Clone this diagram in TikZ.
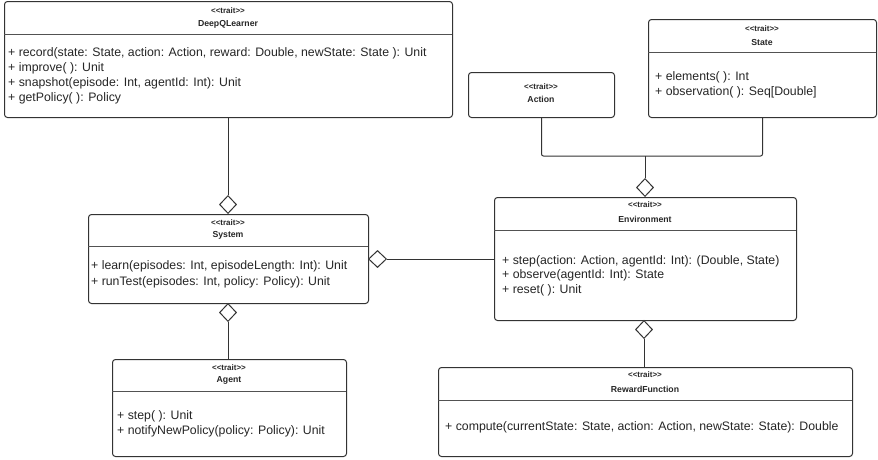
\documentclass[tikz,border=0pt]{standalone}
\usepackage{fontspec}
\setmainfont{Liberation Sans}
\usetikzlibrary{shapes.geometric}
\definecolor{lineC}{HTML}{333333}
\newcommand{\trt}{<{}<trait>{}>}
\tikzset{
  cls/.style={draw=lineC, line width=1pt, rounded corners=3pt, anchor=north west, inner sep=0pt, fill=white},
  divider/.style={draw=lineC!85, line width=0.9pt},
  stereo/.style={font=\fontsize{8}{9}\selectfont\bfseries, inner sep=0pt, anchor=center, text=black!85},
  ctitle/.style={font=\fontsize{8.7}{10}\selectfont\bfseries, inner sep=0pt, anchor=center, text=black!85},
  meth/.style={font=\fontsize{12.3}{15}\selectfont, inner sep=0pt, anchor=base west, text=black!85},
  conn/.style={draw=lineC, line width=1pt},
  agg/.style={diamond, draw=lineC, line width=1pt, fill=white, inner sep=0pt, minimum width=17pt, minimum height=18pt}
}
\begin{document}
\begin{tikzpicture}[x=1pt,y=-1pt]
\useasboundingbox (0,0) rectangle (878,459);
\fill[white] (0,0) rectangle (878,459);

% DeepQLearner
\node[cls, minimum width=448pt, minimum height=116pt] (dq) at (4,1) {};
\draw[divider] (4,34) -- (452,34);
\node[stereo] (dqs) at (228,11) {\trt};
\node[ctitle] (dqt) at (228,24) {DeepQLearner};
\node[meth] (dq1) at (8,56) {+ record(state: State, action: Action, reward: Double, newState: State ): Unit};
\node[meth] (dq2) at (8,71) {+ improve( ): Unit};
\node[meth] (dq3) at (8,86) {+ snapshot(episode: Int, agentId: Int): Unit};
\node[meth] (dq4) at (8,101) {+ getPolicy( ): Policy};

% Action
\node[cls, minimum width=146pt, minimum height=45pt] (ac) at (468,72) {};
\node[stereo] (acs) at (541,87) {\trt};
\node[ctitle] (act) at (541,99) {Action};

% State
\node[cls, minimum width=228pt, minimum height=98pt] (st) at (648,19) {};
\draw[divider] (648,52) -- (876,52);
\node[stereo] (sts) at (762,29) {\trt};
\node[ctitle] (stt) at (762,42) {State};
\node[meth] (st1) at (655,80) {+ elements( ): Int};
\node[meth] (st2) at (655,95) {+ observation( ): Seq[Double]};

% System
\node[cls, minimum width=280pt, minimum height=89pt] (sy) at (88,214) {};
\draw[divider] (88,246) -- (368,246);
\node[stereo] (sys) at (228,223) {\trt};
\node[ctitle] (syt) at (228,235) {System};
\node[meth] (sy1) at (91,269) {+ learn(episodes: Int, episodeLength: Int): Unit};
\node[meth] (sy2) at (91,285) {+ runTest(episodes: Int, policy: Policy): Unit};

% Environment
\node[cls, minimum width=302pt, minimum height=123pt] (en) at (494,197) {};
\draw[divider] (494,230) -- (796,230);
\node[stereo] (ens) at (645,205) {\trt};
\node[ctitle] (ent) at (645,219) {Environment};
\node[meth] (en1) at (502,264) {+ step(action: Action, agentId: Int): (Double, State)};
\node[meth] (en2) at (502,278) {+ observe(agentId: Int): State};
\node[meth] (en3) at (502,293) {+ reset( ): Unit};

% Agent
\node[cls, minimum width=234pt, minimum height=97pt] (ag) at (112,359) {};
\draw[divider] (112,391) -- (346,391);
\node[stereo] (ags) at (229,368) {\trt};
\node[ctitle] (agt) at (229,380) {Agent};
\node[meth] (ag1) at (117,419) {+ step( ): Unit};
\node[meth] (ag2) at (117,434) {+ notifyNewPolicy(policy: Policy): Unit};

% RewardFunction
\node[cls, minimum width=414pt, minimum height=89pt] (rf) at (438,367) {};
\draw[divider] (438,400) -- (852,400);
\node[stereo] (rfs) at (645,375) {\trt};
\node[ctitle] (rft) at (645,389) {RewardFunction};
\node[meth] (rf1) at (445,430) {+ compute(currentState: State, action: Action, newState: State): Double};

% Aggregation diamonds
\node[agg, anchor=south] (d1) at (228,214) {};
\node[agg, anchor=north] (d2) at (228,303) {};
\node[agg, anchor=south] (d3) at (645,197) {};
\node[agg, anchor=north] (d4) at (644,320) {};
\node[agg, minimum width=18pt, minimum height=17pt, anchor=west] (d5) at (368,259) {};

% Connectors
\coordinate (jn) at (645,156);
\draw[conn] (dq.south -| d1.north) -- (d1.north);
\draw[conn] (d2.south) -- (d2.south |- ag.north);
\draw[conn] (d4.south) -- (d4.south |- rf.north);
\draw[conn] (d5.east) -- (d5.east -| en.west);
\draw[conn, rounded corners=2pt] (ac.south) -- (ac.south |- jn) -- (jn -| st.south) -- (st.south);
\draw[conn] (jn) -- (d3.north);
\end{tikzpicture}
\end{document}
